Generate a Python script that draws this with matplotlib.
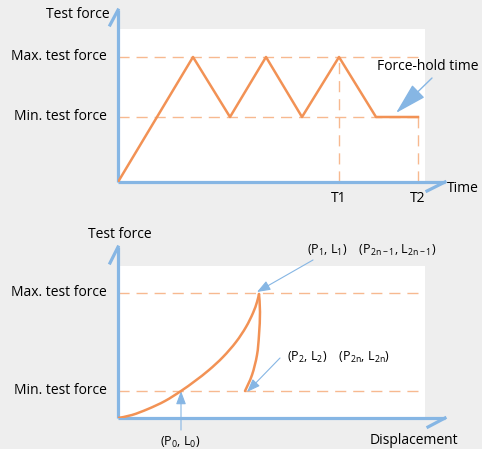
"""
Schéma: cycle de force d'essai (force / temps) et courbe force / déplacement.
"""

import matplotlib
matplotlib.use("Agg")
import numpy as np
import matplotlib.pyplot as plt
from matplotlib.path import Path
from matplotlib.patches import PathPatch

plt.rcParams['font.family'] = ['Open Sans', 'DejaVu Sans']
plt.rcParams['mathtext.fontset'] = 'custom'
plt.rcParams['mathtext.rm'] = 'Open Sans'
plt.rcParams['mathtext.it'] = 'Open Sans'

# --- données ---
# graphique du haut : force en fonction du temps
time_pts = [0, 75, 112, 148, 184, 221, 258, 300]
force_pts = [0, 125, 65, 125, 65, 125, 65, 65]
max_force = 125
min_force = 65
t1 = 221
t2 = 300

# graphique du bas : force en fonction du déplacement
load_disp = [0, 14, 30, 47, 63, 77, 91, 105, 118, 128, 135, 139, 141]
load_force = [0, 3, 9, 17, 27, 37, 48, 61, 76, 91, 105, 116, 124]
unload_disp = [141, 142, 141, 139, 134, 127]
unload_force = [124, 106, 83, 63, 43, 27]
max_force_b = 125
min_force_b = 27

BG = '#eeeeee'
ORANGE = '#f29255'
DASH = '#f7b990'
BLUE = '#86b6e4'
FS = 10

fig = plt.figure(figsize=(4.82, 4.49), dpi=100, facecolor=BG)


def smooth_path(xs, ys):
    """Courbe de Bézier (Catmull-Rom) passant par les points mesurés."""
    p = np.column_stack([xs, ys]).astype(float)
    verts = [p[0]]
    codes = [Path.MOVETO]
    for i in range(len(p) - 1):
        p0 = p[i - 1] if i > 0 else p[i]
        p3 = p[i + 2] if i + 2 < len(p) else p[i + 1]
        c1 = p[i] + (p[i + 1] - p0) / 6
        c2 = p[i + 1] - (p3 - p[i]) / 6
        verts += [c1, c2, p[i + 1]]
        codes += [Path.CURVE4] * 3
    return Path(verts, codes)


def draw_axes_arrows(ax, ytop, xend, ybarb, xbarb):
    # axe vertical avec demi-flèche
    ax.plot([0, 0], [0, ytop], color=BLUE, lw=2.3, clip_on=False, solid_capstyle='butt')
    ax.plot([-8, 0], [ybarb, ytop], color=BLUE, lw=2.3, clip_on=False)
    # axe horizontal avec demi-flèche
    ax.plot([0, xend], [0, 0], color=BLUE, lw=2.3, clip_on=False, solid_capstyle='butt')
    ax.plot([xbarb, xend], [-9, 0], color=BLUE, lw=2.3, clip_on=False)


def setup(ax, ymax):
    ax.set_xlim(0, 307)
    ax.set_ylim(0, ymax)
    ax.set_facecolor('white')
    for s in ax.spines.values():
        s.set_visible(False)
    ax.set_xticks([])
    ax.set_yticks([])


# ---------- haut ----------
ax1 = fig.add_axes([118 / 482, (449 - 182) / 449, 307 / 482, 153 / 449])
setup(ax1, 153)

ax1.axhline(max_force, color=DASH, lw=1, dashes=(8, 5))
ax1.axhline(min_force, color=DASH, lw=1, dashes=(8, 5))
ax1.plot([t1, t1], [0, max_force], color=DASH, lw=1, dashes=(8, 5))
ax1.plot([t2, t2], [0, min_force], color=DASH, lw=1, dashes=(8, 5))
ax1.plot(time_pts, force_pts, color=ORANGE, lw=1.8, zorder=4)
draw_axes_arrows(ax1, 172, 327, 157, 309)

ax1.text(-40, 168, 'Test force', ha='center', va='center', fontsize=FS, clip_on=False)
ax1.text(-11, max_force, 'Max. test force', ha='right', va='center', fontsize=FS)
ax1.text(-11, min_force, 'Min. test force', ha='right', va='center', fontsize=FS)
ax1.text(329, -6, 'Time', ha='left', va='center', fontsize=FS)
ax1.text(t1, -16, 'T1', ha='center', va='center', fontsize=FS)
ax1.text(t2, -16, 'T2', ha='center', va='center', fontsize=FS)
ax1.text(259, 115, 'Force-hold time', ha='left', va='center', fontsize=FS)
ax1.annotate('', xy=(278, 69), xytext=(314, 104), annotation_clip=False,
             arrowprops=dict(arrowstyle='-|>,head_length=2.0,head_width=0.55',
                             color=BLUE, lw=1, shrinkA=0, shrinkB=0))

# ---------- bas ----------
ax2 = fig.add_axes([118 / 482, (449 - 418) / 449, 307 / 482, 152 / 449])
setup(ax2, 152)

ax2.axhline(max_force_b, color=DASH, lw=1, dashes=(8, 5))
ax2.axhline(min_force_b, color=DASH, lw=1, dashes=(8, 5))
for xs, ys in [(load_disp, load_force), (unload_disp, unload_force)]:
    ax2.add_patch(PathPatch(smooth_path(xs, ys), facecolor='none', edgecolor=ORANGE,
                            lw=1.8, zorder=4, capstyle='round', joinstyle='round'))
draw_axes_arrows(ax2, 171, 327, 155, 310)

ax2.text(2, 183, 'Test force', ha='center', va='center', fontsize=FS)
ax2.text(-11, max_force_b, 'Max. test force', ha='right', va='center', fontsize=FS)
ax2.text(-11, min_force_b, 'Min. test force', ha='right', va='center', fontsize=FS)
ax2.text(252, -22, 'Displacement', ha='left', va='center', fontsize=FS)
ax2.text(62, -24, r'(P$_\mathregular{0}$, L$_\mathregular{0}$)', ha='center', va='center', fontsize=9)
ax2.text(189, 168, r'(P$_\mathregular{1}$, L$_\mathregular{1}$)    '
                   r'(P$_\mathregular{2n-1}$, L$_\mathregular{2n-1}$)',
         ha='left', va='center', fontsize=9)
ax2.text(169, 61, r'(P$_\mathregular{2}$, L$_\mathregular{2}$)    '
                  r'(P$_\mathregular{2n}$, L$_\mathregular{2n}$)',
         ha='left', va='center', fontsize=9)

arrow_small = dict(arrowstyle='-|>,head_length=0.8,head_width=0.3',
                   color=BLUE, lw=0.8, shrinkA=0, shrinkB=0)
ax2.annotate('', xy=(63, 27), xytext=(63, -12), annotation_clip=False, arrowprops=arrow_small)
ax2.annotate('', xy=(139, 126), xytext=(195, 158), annotation_clip=False, arrowprops=arrow_small)
ax2.annotate('', xy=(129, 26), xytext=(162, 60), annotation_clip=False, arrowprops=arrow_small)

fig.savefig('out.png', dpi=100, facecolor=BG)
